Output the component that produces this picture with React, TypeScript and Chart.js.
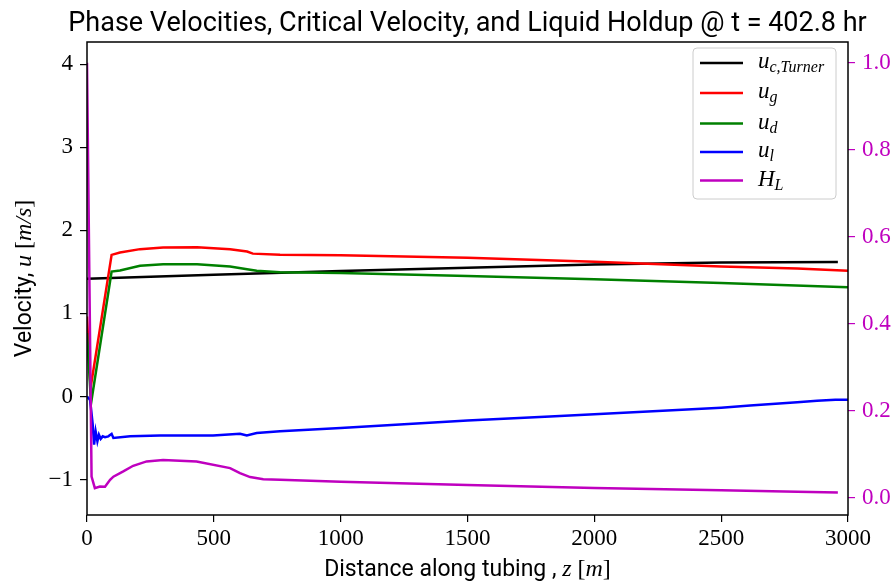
import React, { useEffect, useRef } from 'react';
import { Chart, registerables } from 'chart.js';

Chart.register(...registerables);

// ---- data -------------------------------------------------------------
// distance along tubing [m] for each profile
const zTurner = [0, 500, 1000, 1500, 2000, 2500, 2960];
const uTurner = [1.416, 1.465, 1.51, 1.55, 1.59, 1.612, 1.62];

const zGas = [0, 14, 97, 130, 209, 300, 434, 564, 631, 654, 761, 1000, 1500, 2000, 2500, 2800, 3000];
const uGas = [0.963, 0.1, 1.705, 1.733, 1.774, 1.793, 1.798, 1.772, 1.745, 1.72, 1.705, 1.7, 1.67, 1.622, 1.565, 1.54, 1.515];

const zDrop = [0, 16, 97, 130, 209, 300, 434, 564, 631, 669, 761, 1000, 1500, 2000, 2500, 3000];
const uDrop = [0.763, -0.08, 1.504, 1.516, 1.573, 1.593, 1.593, 1.565, 1.533, 1.513, 1.497, 1.487, 1.452, 1.411, 1.365, 1.316];

const zLiq = [0, 12, 22, 28, 34, 41, 47, 54, 62, 71, 84, 97, 104, 170, 288, 497, 603, 630, 669, 761, 1000, 1500, 1825, 2000, 2500, 2614, 2800, 2878, 2950, 3000];
const uLiq = [0, -0.04, -0.32, -0.58, -0.42, -0.54, -0.46, -0.51, -0.48, -0.49, -0.48, -0.45, -0.5, -0.48, -0.47, -0.47, -0.45, -0.47, -0.44, -0.42, -0.38, -0.29, -0.24, -0.215, -0.135, -0.11, -0.07, -0.05, -0.04, -0.04];

const zHold = [0, 18, 31, 51, 71, 91, 104, 143, 182, 235, 300, 432, 564, 603, 643, 695, 761, 1000, 1500, 2000, 2500, 2800, 2960];
const holdup = [1.0, 0.048, 0.0216, 0.0253, 0.025, 0.0407, 0.048, 0.06, 0.073, 0.083, 0.086, 0.083, 0.0676, 0.056, 0.047, 0.042, 0.0407, 0.036, 0.029, 0.022, 0.0165, 0.0135, 0.0115];

const distanceTicks = [0, 500, 1000, 1500, 2000, 2500, 3000];
const velocityTicks = [-1, 0, 1, 2, 3, 4];
const holdupTicks = [0, 0.2, 0.4, 0.6, 0.8, 1.0];

// ---- styling ----------------------------------------------------------
const W = 895;
const H = 582;
const SERIF = '"Liberation Serif", "DejaVu Serif", serif';
const SANS = 'Roboto, "Liberation Sans", sans-serif';
const MAGENTA = '#bf00bf';

const toPoints = (xs: number[], ys: number[]) => xs.map((x, i) => ({ x, y: ys[i] }));

type Run = { t: string; f: string; dy?: number };

// draw a sequence of differently-styled text pieces on one baseline
function drawRuns(ctx: CanvasRenderingContext2D, runs: Run[], x: number, y: number, align: 'left' | 'center') {
  ctx.textBaseline = 'alphabetic';
  ctx.textAlign = 'left';
  const widths = runs.map((r) => {
    ctx.font = r.f;
    return ctx.measureText(r.t).width;
  });
  const total = widths.reduce((a, b) => a + b, 0);
  let cx = align === 'center' ? x - total / 2 : x;
  runs.forEach((r, i) => {
    ctx.font = r.f;
    ctx.fillText(r.t, cx, y + (r.dy || 0));
    cx += widths[i];
  });
}

const legendItems: { color: string; runs: Run[] }[] = [
  { color: '#000000', runs: [{ t: 'u', f: `italic 23px ${SERIF}` }, { t: 'c,Turner', f: `italic 16px ${SERIF}`, dy: 4 }] },
  { color: '#ff0000', runs: [{ t: 'u', f: `italic 23px ${SERIF}` }, { t: 'g', f: `italic 16px ${SERIF}`, dy: 4 }] },
  { color: '#008000', runs: [{ t: 'u', f: `italic 23px ${SERIF}` }, { t: 'd', f: `italic 16px ${SERIF}`, dy: 4 }] },
  { color: '#0000ff', runs: [{ t: 'u', f: `italic 23px ${SERIF}` }, { t: 'l', f: `italic 16px ${SERIF}`, dy: 4 }] },
  { color: MAGENTA, runs: [{ t: 'H', f: `italic 23px ${SERIF}` }, { t: 'L', f: `italic 16px ${SERIF}`, dy: 4 }] },
];

const decorations = {
  id: 'decorations',
  afterDraw(chart: any) {
    const ctx: CanvasRenderingContext2D = chart.ctx;
    const a = chart.chartArea;
    const cx = (a.left + a.right) / 2;
    const cy = (a.top + a.bottom) / 2;
    ctx.save();

    // axes frame
    ctx.strokeStyle = '#000';
    ctx.lineWidth = 1.5;
    ctx.strokeRect(a.left, a.top, a.right - a.left, a.bottom - a.top);

    ctx.fillStyle = '#000';
    // title
    drawRuns(ctx, [{ t: 'Phase Velocities, Critical Velocity, and Liquid Holdup @ t = 402.8 hr', f: `27px ${SANS}` }], cx, 31, 'center');

    // x label
    drawRuns(
      ctx,
      [
        { t: 'Distance along tubing , ', f: `23px ${SANS}` },
        { t: 'z', f: `italic 24px ${SERIF}` },
        { t: ' [', f: `24px ${SERIF}` },
        { t: 'm', f: `italic 24px ${SERIF}` },
        { t: ']', f: `24px ${SERIF}` },
      ],
      cx,
      576,
      'center'
    );

    // y label
    ctx.save();
    ctx.translate(31, cy);
    ctx.rotate(-Math.PI / 2);
    drawRuns(
      ctx,
      [
        { t: 'Velocity, ', f: `23px ${SANS}` },
        { t: 'u', f: `italic 24px ${SERIF}` },
        { t: ' [', f: `24px ${SERIF}` },
        { t: 'm/s', f: `italic 24px ${SERIF}` },
        { t: ']', f: `24px ${SERIF}` },
      ],
      0,
      0,
      'center'
    );
    ctx.restore();

    // legend
    const lx = 693, ly = 48, lw = 143, lh = 151, r = 4;
    ctx.beginPath();
    ctx.moveTo(lx + r, ly);
    ctx.arcTo(lx + lw, ly, lx + lw, ly + lh, r);
    ctx.arcTo(lx + lw, ly + lh, lx, ly + lh, r);
    ctx.arcTo(lx, ly + lh, lx, ly, r);
    ctx.arcTo(lx, ly, lx + lw, ly, r);
    ctx.closePath();
    ctx.fillStyle = 'rgba(255,255,255,0.8)';
    ctx.fill();
    ctx.strokeStyle = '#cccccc';
    ctx.lineWidth = 1;
    ctx.stroke();

    const rows = [63, 93, 123.5, 152, 180.5];
    legendItems.forEach((item, i) => {
      const y = rows[i];
      ctx.strokeStyle = item.color;
      ctx.lineWidth = 2.5;
      ctx.beginPath();
      ctx.moveTo(700, y);
      ctx.lineTo(743, y);
      ctx.stroke();
      ctx.fillStyle = '#000';
      drawRuns(ctx, item.runs, 758, y + 5, 'left');
    });

    ctx.restore();
  },
};

export default function App() {
  const canvasRef = useRef<HTMLCanvasElement | null>(null);

  useEffect(() => {
    const canvas = canvasRef.current;
    if (!canvas) return;

    const line = (label: string, xs: number[], ys: number[], color: string, axis: string, order: number) => ({
      label,
      data: toPoints(xs, ys),
      borderColor: color,
      backgroundColor: color,
      borderWidth: 2.5,
      pointRadius: 0,
      tension: 0,
      fill: false,
      yAxisID: axis,
      order,
    });

    const tickFont = { family: SERIF, size: 23 };

    const chart = new Chart(canvas, {
      type: 'line',
      data: {
        datasets: [
          line('u_c,Turner', zTurner, uTurner, '#000000', 'y', 4),
          line('u_g', zGas, uGas, '#ff0000', 'y', 3),
          line('u_d', zDrop, uDrop, '#008000', 'y', 2),
          line('u_l', zLiq, uLiq, '#0000ff', 'y', 1),
          line('H_L', zHold, holdup, MAGENTA, 'y1', 0),
        ],
      },
      options: {
        responsive: false,
        animation: false,
        devicePixelRatio: 1,
        layout: { padding: { top: 42, left: 0, right: 0, bottom: 0 } },
        plugins: {
          legend: { display: false },
          title: { display: false },
          tooltip: { enabled: false },
        },
        scales: {
          x: {
            type: 'linear',
            min: 0,
            max: 3000,
            afterBuildTicks: (s: any) => {
              s.ticks = distanceTicks.map((v) => ({ value: v }));
            },
            afterFit: (s: any) => {
              s.height = H - 515;
            },
            grid: { display: true, drawOnChartArea: false, drawTicks: true, tickLength: 7, color: '#000', lineWidth: 1.2 },
            border: { display: false },
            ticks: { color: '#000', font: tickFont, padding: 3, maxRotation: 0, callback: (v: any) => String(v) },
          },
          y: {
            type: 'linear',
            position: 'left',
            min: -1.427,
            max: 4.268,
            afterBuildTicks: (s: any) => {
              s.ticks = velocityTicks.map((v) => ({ value: v }));
            },
            afterFit: (s: any) => {
              s.width = 87;
            },
            grid: { display: true, drawOnChartArea: false, drawTicks: true, tickLength: 7, color: '#000', lineWidth: 1.2 },
            border: { display: false },
            ticks: {
              color: '#000',
              font: tickFont,
              padding: 7,
              callback: (v: any) => (v < 0 ? '\u2212' + Math.abs(v) : String(v)),
            },
          },
          y1: {
            type: 'linear',
            position: 'right',
            min: -0.0402,
            max: 1.0476,
            afterBuildTicks: (s: any) => {
              s.ticks = holdupTicks.map((v) => ({ value: v }));
            },
            afterFit: (s: any) => {
              s.width = W - 848;
            },
            grid: { display: true, drawOnChartArea: false, drawTicks: true, tickLength: 7, color: MAGENTA, lineWidth: 1.2 },
            border: { display: false },
            ticks: { color: MAGENTA, font: tickFont, padding: 7, callback: (v: any) => Number(v).toFixed(1) },
          },
        },
      },
      plugins: [decorations],
    } as any);

    return () => chart.destroy();
  }, []);

  return (
    <div style={{ position: 'absolute', left: 0, top: 0, width: W, height: H, background: '#fff' }}>
      <canvas ref={canvasRef} width={W} height={H} style={{ display: 'block', width: W, height: H }} />
    </div>
  );
}
